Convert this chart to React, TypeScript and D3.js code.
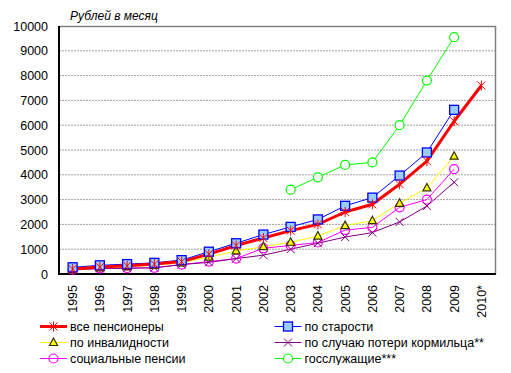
import React, { useEffect, useRef } from "react";
import * as d3 from "d3";

const years = ["1995", "1996", "1997", "1998", "1999", "2000", "2001", "2002", "2003", "2004", "2005", "2006", "2007", "2008", "2009", "2010*"];
const yTicks = [0, 1000, 2000, 3000, 4000, 5000, 6000, 7000, 8000, 9000, 10000];

type V = number | null;
const allPensioners: V[] = [200, 280, 330, 400, 500, 800, 1150, 1450, 1750, 2000, 2500, 2810, 3620, 4550, 6160, 7600];
const oldAge: V[] = [270, 350, 400, 450, 560, 900, 1240, 1590, 1900, 2200, 2750, 3080, 3970, 4900, 6620, null];
const disability: V[] = [180, 250, 300, 350, 450, 680, 930, 1100, 1280, 1530, 1950, 2150, 2850, 3470, 4750, null];
const survivor: V[] = [160, 220, 230, 250, 380, 470, 620, 760, 1000, 1240, 1490, 1670, 2100, 2740, 3700, null];
const social: V[] = [180, 230, 240, 250, 380, 500, 620, 1040, 1150, 1270, 1770, 1880, 2690, 3000, 4230, null];
const civilServants: V[] = [null, null, null, null, null, null, null, null, 3400, 3900, 4400, 4500, 6000, 7800, 9550, null];

interface Series { name: string; values: V[]; color: string; width: number; marker: string; fill?: string; mstroke?: string }

const series: Series[] = [
  { name: "все пенсионеры", values: allPensioners, color: "#ff0000", width: 3, marker: "star" },
  { name: "по старости", values: oldAge, color: "#0000ff", width: 1, marker: "square", fill: "#99ccff" },
  { name: "по инвалидности", values: disability, color: "#ffff00", width: 1, marker: "triangle", fill: "#ffff00", mstroke: "#333300" },
  { name: "по случаю потери кормильца**", values: survivor, color: "#800080", width: 1, marker: "x" },
  { name: "социальные пенсии", values: social, color: "#ff00ff", width: 1, marker: "circle", fill: "none" },
  { name: "госслужащие***", values: civilServants, color: "#00ff00", width: 1, marker: "circle", fill: "#ffffff" },
];

const drawMarker = (g: d3.Selection<SVGGElement, unknown, null, undefined>, s: Series, x: number, y: number) => {
  const c = s.color;
  if (s.marker === "square") {
    g.append("rect").attr("x", x - 4.5).attr("y", y - 4.5).attr("width", 9).attr("height", 9)
      .attr("fill", s.fill!).attr("stroke", c).attr("stroke-width", 1.3);
  } else if (s.marker === "triangle") {
    g.append("path").attr("d", `M${x},${y - 4.5}L${x + 4},${y + 3}L${x - 4},${y + 3}Z`)
      .attr("fill", s.fill!).attr("stroke", s.mstroke!).attr("stroke-width", 1.2);
  } else if (s.marker === "circle") {
    g.append("circle").attr("cx", x).attr("cy", y).attr("r", 4.5)
      .attr("fill", s.fill!).attr("stroke", c).attr("stroke-width", 1.2);
  } else if (s.marker === "x") {
    g.append("path").attr("d", `M${x - 4},${y - 4}L${x + 4},${y + 4}M${x - 4},${y + 4}L${x + 4},${y - 4}`)
      .attr("stroke", c).attr("stroke-width", 1);
  } else if (s.marker === "star") {
    g.append("path").attr("d", `M${x - 4},${y - 4}L${x + 4},${y + 4}M${x - 4},${y + 4}L${x + 4},${y - 4}M${x},${y - 5}L${x},${y + 5}`)
      .attr("stroke", c).attr("stroke-width", 1);
  }
};

export default function App() {
  const svgRef = useRef<SVGSVGElement>(null);

  useEffect(() => {
    if (!svgRef.current) return;
    const svg = d3.select(svgRef.current);
    svg.selectAll("*").remove();

    const left = 59, right = 495, top = 26, bottom = 274;
    const font = "Arial, 'Liberation Sans', sans-serif";

    const x = d3.scaleBand().domain(years).range([left, right]);
    const y = d3.scaleLinear().domain([0, 10000]).range([bottom, top]);
    const cx = (i: number) => (x(years[i]) || 0) + x.bandwidth() / 2;

    // Gridlines
    svg.append("g").selectAll("line").data(yTicks.filter(t => t > 0 && t < 10000)).enter().append("line")
      .attr("x1", left).attr("x2", right).attr("y1", d => y(d)).attr("y2", d => y(d))
      .attr("stroke", "#a0a0a0").attr("stroke-width", 1).attr("stroke-dasharray", "2,1");

    // Plot border
    svg.append("path").attr("d", `M${left},${top + 0.5}H${right + 0.5}V${bottom}`)
      .attr("fill", "none").attr("stroke", "#7f8080").attr("stroke-width", 1.5);
    svg.append("path").attr("d", `M${left},${top}V${bottom}H${right + 1}`)
      .attr("fill", "none").attr("stroke", "#000").attr("stroke-width", 2);

    // Y tick labels
    svg.append("g").selectAll("text").data(yTicks).enter().append("text")
      .attr("x", 48).attr("y", d => y(d) + 4.5).attr("text-anchor", "end")
      .attr("font-family", font).attr("font-size", 12.5).attr("fill", "#000").text(d => d);

    // X tick labels rotated
    svg.append("g").selectAll("text").data(years).enter().append("text")
      .attr("transform", (d, i) => `translate(${cx(i) + 4.5},${285}) rotate(-90)`)
      .attr("text-anchor", "end").attr("font-family", font).attr("font-size", 12.5).attr("fill", "#000")
      .text(d => d);

    // Unit title
    svg.append("text").attr("x", 70).attr("y", 20).attr("font-family", font).attr("font-size", 12)
      .attr("font-style", "italic").attr("fill", "#000").text("Рублей в месяц");

    // Lines
    const draw = [...series].reverse();
    draw.forEach(s => {
      const line = d3.line<V>().defined(v => v !== null).x((_, i) => cx(i)).y(v => y(v as number));
      svg.append("path").datum(s.values).attr("d", line).attr("fill", "none")
        .attr("stroke", s.color).attr("stroke-width", s.width).attr("stroke-linejoin", "round");
    });
    draw.forEach(s => {
      const g = svg.append("g");
      s.values.forEach((v, i) => { if (v !== null) drawMarker(g, s, cx(i), y(v)); });
    });

    // Legend
    const legend = svg.append("g");
    series.forEach((s, i) => {
      const col = i % 2, row = Math.floor(i / 2);
      const lx = col === 0 ? 40 : 274.5;
      const ly = 326.5 + row * 16;
      const g = legend.append("g");
      g.append("line").attr("x1", lx).attr("x2", lx + 27).attr("y1", ly).attr("y2", ly)
        .attr("stroke", s.color).attr("stroke-width", s.width);
      drawMarker(g, s, lx + 13.5, ly);
      g.append("text").attr("x", lx + 30).attr("y", ly + 4.5).attr("font-family", font)
        .attr("font-size", 12.5).attr("fill", "#000").text(s.name);
    });
  }, []);

  return (
    <div style={{ width: 511, height: 373, margin: -8, background: "#fff" }}>
      <svg ref={svgRef} width={511} height={373} style={{ display: "block" }} />
    </div>
  );
}
